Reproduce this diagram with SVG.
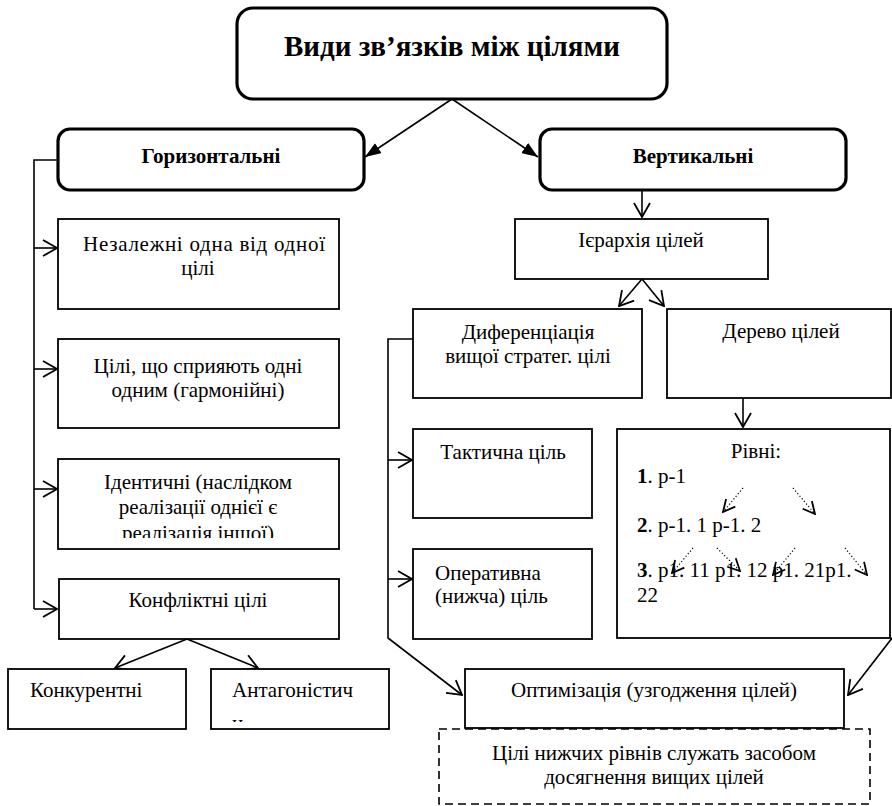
<svg xmlns="http://www.w3.org/2000/svg" width="892" height="806" viewBox="0 0 892 806">
  <style>
    text { font-family: "Liberation Serif", "Times New Roman", serif; fill: #000; }
    .t { font-size: 21px; }
    .c { text-anchor: middle; }
    .b { font-weight: bold; }
    .box { fill: #fff; stroke: #000; stroke-width: 1.8; }
    .rbox { fill: #fff; stroke: #000; stroke-width: 3.2; }
    .dash { fill: #fff; stroke: #000; stroke-width: 1.6; stroke-dasharray: 8 5; }
    .ln { fill: none; stroke: #000; stroke-width: 1.6; }
    .dot { fill: none; stroke: #000; stroke-width: 1.2; stroke-dasharray: 1.2 2.2; }
  </style>
  <defs>
    <marker id="open" viewBox="0 0 16 18" refX="15" refY="9" markerWidth="16" markerHeight="18" markerUnits="userSpaceOnUse" orient="auto">
      <path d="M1,1 L15,9 L1,17" fill="none" stroke="#000" stroke-width="1.8"/>
    </marker>
    <marker id="solid" viewBox="0 0 16 12" refX="16" refY="6" markerWidth="16" markerHeight="12" markerUnits="userSpaceOnUse" orient="auto">
      <path d="M0,0 L16,6 L0,12 z" fill="#000"/>
    </marker>
    <marker id="small" viewBox="0 0 14 14" refX="13" refY="7" markerWidth="14" markerHeight="14" markerUnits="userSpaceOnUse" orient="auto">
      <path d="M1,1 L13,7 L1,13" fill="none" stroke="#000" stroke-width="1.8" stroke-dasharray="none"/>
    </marker>
    <clipPath id="clipIdent"><rect x="58" y="459" width="281" height="79"/></clipPath>
    <clipPath id="clipAnt"><rect x="211" y="669" width="178" height="53"/></clipPath>
  </defs>

  <!-- connectors -->
  <g id="connectors">
    <line class="ln" x1="452" y1="99" x2="365" y2="157" marker-end="url(#solid)"/>
    <line class="ln" x1="452" y1="99" x2="538" y2="157" marker-end="url(#solid)"/>

    <polyline class="ln" points="58,160 34,160 34,609"/>
    <line class="ln" x1="34" y1="248" x2="57" y2="248" marker-end="url(#open)"/>
    <line class="ln" x1="34" y1="369" x2="57" y2="369" marker-end="url(#open)"/>
    <line class="ln" x1="34" y1="489" x2="57" y2="489" marker-end="url(#open)"/>
    <line class="ln" x1="34" y1="609" x2="57" y2="609" marker-end="url(#open)"/>

    <line class="ln" x1="187" y1="639" x2="115" y2="668" marker-end="url(#open)"/>
    <line class="ln" x1="187" y1="639" x2="258" y2="668" marker-end="url(#open)"/>

    <line class="ln" x1="642" y1="190" x2="642" y2="217" marker-end="url(#open)"/>
    <line class="ln" x1="642" y1="279" x2="619" y2="306" marker-end="url(#open)"/>
    <line class="ln" x1="642" y1="279" x2="664" y2="306" marker-end="url(#open)"/>
    <line class="ln" x1="743" y1="398" x2="743" y2="427" marker-end="url(#open)"/>

    <polyline class="ln" points="413,339 388,339 388,638 462,695" marker-end="url(#open)"/>
    <line class="ln" x1="388" y1="460" x2="412" y2="460" marker-end="url(#open)"/>
    <line class="ln" x1="388" y1="579" x2="412" y2="579" marker-end="url(#open)"/>

    <line class="ln" x1="896" y1="633" x2="848" y2="695" marker-end="url(#open)"/>
  </g>

  <!-- nodes -->
  <g id="title">
    <rect class="rbox" x="237" y="8" width="430" height="91" rx="16"/>
    <text class="b c" x="452" y="56" font-size="29">Види зв’язків між цілями</text>
  </g>

  <g id="horizontal">
    <rect class="rbox" x="58" y="129" width="306" height="61" rx="12"/>
    <text class="b c" x="211" y="163" font-size="21">Горизонтальні</text>
  </g>

  <g id="vertical">
    <rect class="rbox" x="540" y="129" width="306" height="61" rx="12"/>
    <text class="b c" x="693" y="163" font-size="21">Вертикальні</text>
  </g>

  <g id="independent">
    <rect class="box" x="58" y="219" width="281" height="90"/>
    <text class="t c" x="204" y="251" textLength="242" lengthAdjust="spacing">Незалежні одна від одної</text>
    <text class="t c" x="198" y="275">цілі</text>
  </g>

  <g id="harmonious">
    <rect class="box" x="58" y="339" width="281" height="89"/>
    <text class="t c" x="198" y="373">Цілі, що сприяють одні</text>
    <text class="t c" x="198" y="397">одним (гармонійні)</text>
  </g>

  <g id="identical">
    <rect class="box" x="58" y="459" width="281" height="90"/>
    <g clip-path="url(#clipIdent)">
      <text class="t c" x="198" y="489">Ідентичні (наслідком</text>
      <text class="t c" x="198" y="514">реалізації однієї є</text>
      <text class="t c" x="198" y="540">реалізація іншої)</text>
    </g>
  </g>

  <g id="conflicting">
    <rect class="box" x="59" y="579" width="280" height="60"/>
    <text class="t c" x="198" y="607">Конфліктні цілі</text>
  </g>

  <g id="competitive">
    <rect class="box" x="8" y="669" width="178" height="60"/>
    <text class="t" x="30" y="697">Конкурентні</text>
  </g>

  <g id="antagonistic">
    <rect class="box" x="211" y="669" width="178" height="60"/>
    <g clip-path="url(#clipAnt)">
      <text class="t" x="232" y="697">Антагоністич</text>
      <text class="t" x="232" y="730">и</text>
    </g>
  </g>

  <g id="hierarchy">
    <rect class="box" x="515" y="219" width="253" height="60"/>
    <text class="t c" x="641" y="247">Ієрархія цілей</text>
  </g>

  <g id="differentiation">
    <rect class="box" x="413" y="309" width="229" height="89"/>
    <text class="t c" x="528" y="339">Диференціація</text>
    <text class="t c" x="528" y="363">вищої стратег. цілі</text>
  </g>

  <g id="goal-tree">
    <rect class="box" x="667" y="309" width="224" height="89"/>
    <text class="t c" x="781" y="338">Дерево цілей</text>
  </g>

  <g id="tactical">
    <rect class="box" x="413" y="429" width="179" height="89"/>
    <text class="t c" x="503" y="459">Тактична ціль</text>
  </g>

  <g id="operational">
    <rect class="box" x="413" y="549" width="179" height="90"/>
    <text class="t" x="435" y="580">Оперативна</text>
    <text class="t" x="435" y="603">(нижча) ціль</text>
  </g>

  <g id="levels">
    <rect class="box" x="617" y="429" width="273" height="209"/>
    <text class="t c" x="756" y="458">Рівні:</text>
    <text class="t" x="637" y="483"><tspan font-weight="bold">1</tspan>. р-1</text>
    <text class="t" x="637" y="532"><tspan font-weight="bold">2</tspan>. р-1. 1 р-1. 2</text>
    <text class="t" x="637" y="577"><tspan font-weight="bold">3</tspan>. р1. 11 р1. 12 р1. 21р1.</text>
    <text class="t" x="637" y="602">22</text>
    <g id="level-links">
      <line class="dot" x1="743" y1="488" x2="723" y2="512" marker-end="url(#small)"/>
      <line class="dot" x1="793" y1="488" x2="815" y2="514" marker-end="url(#small)"/>
      <line class="dot" x1="693" y1="548" x2="672" y2="573" marker-end="url(#small)"/>
      <line class="dot" x1="717" y1="548" x2="740" y2="571" marker-end="url(#small)"/>
      <line class="dot" x1="795" y1="548" x2="773" y2="575" marker-end="url(#small)"/>
      <line class="dot" x1="845" y1="548" x2="867" y2="575" marker-end="url(#small)"/>
    </g>
  </g>

  <g id="optimization">
    <rect class="box" x="465" y="669" width="379" height="59"/>
    <text class="t c" x="654" y="697">Оптимізація (узгодження цілей)</text>
  </g>

  <g id="note">
    <rect class="dash" x="439" y="729" width="431" height="75"/>
    <text class="t c" x="654" y="760">Цілі нижчих рівнів служать засобом</text>
    <text class="t c" x="654" y="784">досягнення вищих цілей</text>
  </g>
</svg>
